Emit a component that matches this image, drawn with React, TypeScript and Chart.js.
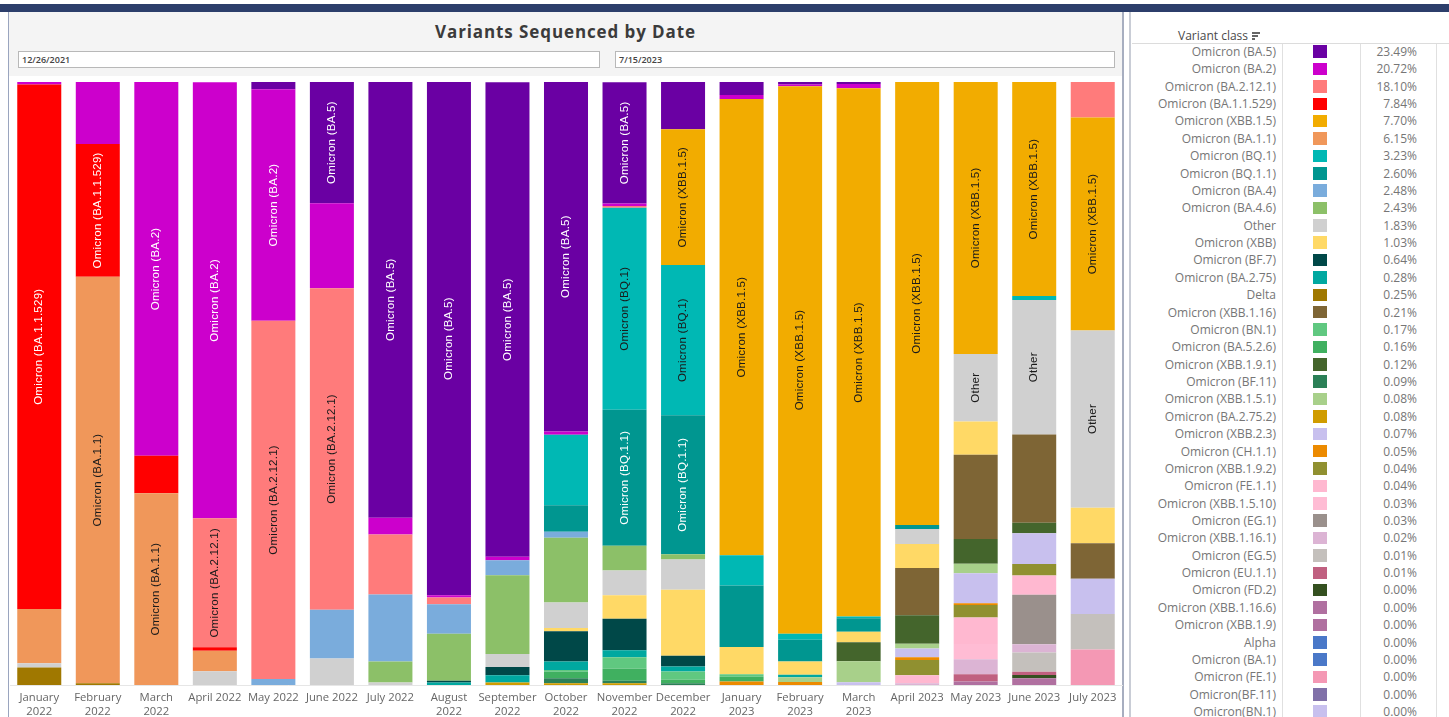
import React, { useEffect, useRef } from 'react';
import { Chart, registerables } from 'chart.js';

Chart.register(...registerables);

// ---------- DATA ----------
const monthLabels: string[][] = [
  ['January', '2022'], ['February', '2022'], ['March', '2022'], ['April 2022'], ['May 2022'],
  ['June 2022'], ['July 2022'], ['August', '2022'], ['September', '2022'], ['October', '2022'],
  ['November', '2022'], ['December', '2022'], ['January', '2023'], ['February', '2023'],
  ['March', '2023'], ['April 2023'], ['May 2023'], ['June 2023'], ['July 2023'],
];

const variantNames: string[] = [
  'Omicron (BA.5)', 'Omicron (BA.2)', 'Omicron (BA.2.12.1)', 'Omicron (BA.1.1.529)', 'Omicron (XBB.1.5)',
  'Omicron (BA.1.1)', 'Omicron (BQ.1)', 'Omicron (BQ.1.1)', 'Omicron (BA.4)', 'Omicron (BA.4.6)',
  'Other', 'Omicron (XBB)', 'Omicron (BF.7)', 'Omicron (BA.2.75)', 'Delta',
  'Omicron (XBB.1.16)', 'Omicron (BN.1)', 'Omicron (BA.5.2.6)', 'Omicron (XBB.1.9.1)', 'Omicron (BF.11)',
  'Omicron (XBB.1.5.1)', 'Omicron (BA.2.75.2)', 'Omicron (XBB.2.3)', 'Omicron (CH.1.1)', 'Omicron (XBB.1.9.2)',
  'Omicron (FE.1.1)', 'Omicron (XBB.1.5.10)', 'Omicron (EG.1)', 'Omicron (XBB.1.16.1)', 'Omicron (EG.5)',
  'Omicron (EU.1.1)', 'Omicron (FD.2)', 'Omicron (XBB.1.16.6)', 'Omicron (XBB.1.9)', 'Alpha',
  'Omicron (BA.1)', 'Omicron (FE.1)', 'Omicron(BF.11)', 'Omicron(BN.1)',
];

const overallShares: string[] = [
  '23.49%', '20.72%', '18.10%', '7.84%', '7.70%', '6.15%', '3.23%', '2.60%', '2.48%', '2.43%',
  '1.83%', '1.03%', '0.64%', '0.28%', '0.25%', '0.21%', '0.17%', '0.16%', '0.12%', '0.09%',
  '0.08%', '0.08%', '0.07%', '0.05%', '0.04%', '0.04%', '0.03%', '0.03%', '0.02%', '0.01%',
  '0.01%', '0.00%', '0.00%', '0.00%', '0.00%', '0.00%', '0.00%', '0.00%', '0.00%',
];

const variantColors: string[] = [
  '#6a00a3', '#cc00cc', '#ff7b7b', '#ff0000', '#f2ac00',
  '#f0975a', '#00b8b4', '#009690', '#7aacdc', '#8cc068',
  '#d0d0d0', '#ffd966', '#004848', '#00a8a0', '#a07800',
  '#7e6535', '#60c880', '#40b060', '#44652c', '#2b8057',
  '#a8d08a', '#d09c00', '#c8c0ee', '#ec8a00', '#909030',
  '#ffb8d0', '#ffbcd4', '#9a908c', '#dcb4d4', '#c4c0bc',
  '#c06080', '#345020', '#b070a0', '#b070a0', '#4a78c8',
  '#4a78c8', '#f498b4', '#8070a8', '#c8c0ee',
];

// monthly share (%) per variant, Jan 2022 .. Jul 2023
const sBA5 = [0, 0, 0, 0, 1.2, 20.1, 72.3, 85.1, 78.7, 58.0, 20.1, 7.85, 2.15, 0.4, 0.35, 0, 0, 0, 0];
const sBA2 = [0.4, 10.3, 62.0, 72.3, 38.4, 14.1, 2.8, 0.4, 0.55, 0.55, 0.4, 0, 0.65, 0.3, 0.7, 0, 0, 0, 0];
const sBA2121 = [0, 0, 0, 21.4, 59.4, 53.3, 9.95, 1.1, 0, 0, 0.3, 0, 0, 0, 0, 0, 0, 0, 5.88];
const sBA11529 = [87.0, 22.0, 6.2, 0.55, 0, 0, 0, 0, 0, 0, 0, 0, 0, 0, 0, 0, 0, 0, 0];
const sXBB15 = [0, 0, 0, 0, 0, 0, 0, 0, 0, 0, 0, 22.5, 75.7, 90.8, 87.6, 73.5, 45.15, 35.5, 35.29];
const sBA11 = [9.0, 67.4, 31.8, 3.4, 0, 0, 0, 0, 0, 0, 0, 0, 0, 0, 0, 0, 0, 0, 0];
const sBQ1 = [0, 0, 0, 0, 0, 0, 0, 0, 0, 11.7, 33.5, 24.9, 5.0, 1.0, 0.3, 0, 0, 0.65, 0];
const sBQ11 = [0, 0, 0, 0, 0, 0, 0, 0, 0, 4.4, 22.55, 23.05, 10.2, 3.6, 2.2, 0.7, 0, 0, 0];
const sBA4 = [0, 0, 0, 0, 1.0, 8.1, 11.1, 4.9, 2.5, 1.0, 0, 0, 0, 0, 0, 0, 0, 0, 0];
const sBA46 = [0, 0, 0, 0, 0, 0, 3.5, 7.8, 13.05, 10.7, 4.1, 0.9, 0, 0, 0, 0, 0, 0, 0];
const sOther = [0.7, 0, 0, 2.3, 0, 4.4, 0.4, 0, 2.15, 4.25, 4.1, 5.0, 0, 0, 0, 2.45, 11.2, 22.3, 29.41];
const sXBB = [0, 0, 0, 0, 0, 0, 0, 0, 0, 0.55, 3.9, 10.95, 4.5, 2.2, 1.75, 4.0, 5.5, 0, 5.88];
const sBF7 = [0, 0, 0, 0, 0, 0, 0, 0.3, 1.4, 5.0, 5.25, 1.8, 0, 0, 0, 0, 0, 0, 0];
const sBA275 = [0, 0, 0, 0, 0, 0, 0, 0.4, 1.2, 1.4, 1.15, 0.8, 0, 0.4, 0, 0, 0, 0, 0];
const sDelta = [2.9, 0.3, 0, 0, 0, 0, 0, 0, 0, 0, 0, 0, 0, 0, 0, 0, 0, 0, 0];
const sXBB116 = [0, 0, 0, 0, 0, 0, 0, 0, 0, 0, 0, 0, 0, 0, 0, 7.85, 14.0, 14.65, 5.88];
const sBN1 = [0, 0, 0, 0, 0, 0, 0, 0, 0, 0.3, 1.9, 1.4, 0.45, 0, 0, 0, 0, 0, 0];
const sBA526 = [0, 0, 0, 0, 0, 0, 0, 0, 0, 1.1, 2.0, 0.55, 0.75, 0, 0, 0, 0, 0, 0];
const sXBB191 = [0, 0, 0, 0, 0, 0, 0, 0, 0, 0, 0, 0, 0, 0, 3.15, 4.7, 4.1, 1.75, 0];
const sBF11 = [0, 0, 0, 0, 0, 0, 0, 0, 0, 0.8, 0.4, 0.3, 0, 0, 0, 0, 0, 0, 0];
const sXBB151 = [0, 0, 0, 0, 0, 0, 0, 0, 0, 0, 0, 0, 0, 0.8, 3.5, 0.8, 1.55, 0, 0];
const sBA2752 = [0, 0, 0, 0, 0, 0, 0, 0, 0.4, 0.3, 0.3, 0, 0, 0, 0, 0, 0, 0, 0];
const sXBB23 = [0, 0, 0, 0, 0, 0, 0, 0, 0, 0, 0, 0, 0, 0, 0.45, 1.45, 5.0, 5.1, 5.88];
const sCH11 = [0, 0, 0, 0, 0, 0, 0, 0, 0, 0, 0, 0, 0.6, 0.5, 0, 0.45, 0.3, 0, 0];
const sXBB192 = [0, 0, 0, 0, 0, 0, 0, 0, 0, 0, 0, 0, 0, 0, 0, 2.55, 2.05, 1.9, 0];
const sFE11 = [0, 0, 0, 0, 0, 0, 0, 0, 0, 0, 0, 0, 0, 0, 0, 1.3, 4.4, 3.2, 0];
const sXBB1510 = [0, 0, 0, 0, 0, 0, 0, 0, 0, 0, 0, 0, 0, 0, 0, 0, 2.55, 0, 0];
const sEG1 = [0, 0, 0, 0, 0, 0, 0, 0, 0, 0, 0, 0, 0, 0, 0, 0, 0, 8.2, 0];
const sXBB1161 = [0, 0, 0, 0, 0, 0, 0, 0, 0, 0, 0, 0, 0, 0, 0, 0.3, 2.45, 1.35, 0];
const sEG5 = [0, 0, 0, 0, 0, 0, 0, 0, 0, 0, 0, 0, 0, 0, 0, 0, 0, 3.2, 5.88];
const sEU11 = [0, 0, 0, 0, 0, 0, 0, 0, 0, 0, 0, 0, 0, 0, 0, 0, 1.2, 0.55, 0];
const sFD2 = [0, 0, 0, 0, 0, 0, 0, 0, 0, 0, 0, 0, 0, 0, 0, 0, 0, 0.55, 0];
const sXBB1166 = [0, 0, 0, 0, 0, 0, 0, 0, 0, 0, 0, 0, 0, 0, 0, 0, 0.6, 1.1, 0];
const sXBB19 = [0, 0, 0, 0, 0, 0, 0, 0, 0, 0, 0, 0, 0, 0, 0, 0, 0, 0, 0];
const sAlpha = [0, 0, 0, 0, 0, 0, 0, 0, 0, 0, 0, 0, 0, 0, 0, 0, 0, 0, 0];
const sBA1 = [0, 0, 0, 0, 0, 0, 0, 0, 0, 0, 0, 0, 0, 0, 0, 0, 0, 0, 0];
const sFE1 = [0, 0, 0, 0, 0, 0, 0, 0, 0, 0, 0, 0, 0, 0, 0, 0, 0, 0, 5.88];
const sBF11b = [0, 0, 0, 0, 0, 0, 0, 0, 0, 0, 0, 0, 0, 0, 0, 0, 0, 0, 0];
const sBN1b = [0, 0, 0, 0, 0, 0, 0, 0, 0, 0, 0, 0, 0, 0, 0, 0, 0, 0, 0];

const seriesValues: number[][] = [
  sBA5, sBA2, sBA2121, sBA11529, sXBB15, sBA11, sBQ1, sBQ11, sBA4, sBA46,
  sOther, sXBB, sBF7, sBA275, sDelta, sXBB116, sBN1, sBA526, sXBB191, sBF11,
  sXBB151, sBA2752, sXBB23, sCH11, sXBB192, sFE11, sXBB1510, sEG1, sXBB1161, sEG5,
  sEU11, sFD2, sXBB1166, sXBB19, sAlpha, sBA1, sFE1, sBF11b, sBN1b,
];

const startDate = '12/26/2021';
const endDate = '7/15/2023';
const chartTitle = 'Variants Sequenced by Date';

// ---------- helpers ----------
function textColorFor(hex: string): string {
  const r = parseInt(hex.slice(1, 3), 16);
  const g = parseInt(hex.slice(3, 5), 16);
  const b = parseInt(hex.slice(5, 7), 16);
  const lum = 0.299 * r + 0.587 * g + 0.114 * b;
  return lum < 120 ? '#ffffff' : '#1a1a1a';
}

const segmentLabels = {
  id: 'segmentLabels',
  afterDatasetsDraw(chart: any) {
    const ctx = chart.ctx as CanvasRenderingContext2D;
    ctx.save();
    ctx.font = '11.5px "Liberation Sans Narrow", "Arial Narrow", sans-serif';
    try { (ctx as any).letterSpacing = '0.25px'; } catch (e) { /* ignore */ }
    ctx.textAlign = 'center';
    ctx.textBaseline = 'middle';
    chart.data.datasets.forEach((ds: any, di: number) => {
      const meta = chart.getDatasetMeta(di);
      meta.data.forEach((bar: any, i: number) => {
        const v = ds.data[i];
        if (!v) return;
        const p = bar.getProps(['x', 'y', 'base'], true);
        const h = Math.abs(p.base - p.y);
        const text = ds.label as string;
        const w = ctx.measureText(text).width;
        if (w + 12 > h) return;
        ctx.save();
        ctx.translate(p.x, (p.y + p.base) / 2);
        ctx.rotate(-Math.PI / 2);
        ctx.fillStyle = textColorFor(ds.backgroundColor);
        ctx.fillText(text, 0, 0);
        ctx.restore();
      });
    });
    ctx.restore();
  },
};

const ROW_H = 17.37;

export default function App() {
  const canvasRef = useRef<HTMLCanvasElement | null>(null);

  useEffect(() => {
    if (!canvasRef.current) return;
    const datasets = variantNames
      .map((name, k) => ({
        label: name,
        data: seriesValues[k],
        backgroundColor: variantColors[k],
        borderWidth: 0,
        barPercentage: 0.752,
        categoryPercentage: 1,
      }))
      .reverse();

    const chart = new Chart(canvasRef.current, {
      type: 'bar',
      data: { labels: monthLabels as any, datasets },
      options: {
        animation: false,
        responsive: false,
        maintainAspectRatio: false,
        devicePixelRatio: 1,
        layout: { padding: { top: 6, left: 10, right: 2, bottom: 0 } },
        plugins: {
          legend: { display: false },
          tooltip: { enabled: false },
          title: { display: false },
        },
        scales: {
          x: {
            stacked: true,
            grid: { display: false, drawTicks: false },
            border: { display: true, color: '#e6e6e6' },
            ticks: {
              autoSkip: false,
              maxRotation: 0,
              minRotation: 0,
              padding: 6,
              color: '#666666',
              font: { family: '"Open Sans", sans-serif', size: 11.3, lineHeight: 1.25 },
            },
            afterFit: (scale: any) => { scale.height = 32; },
          },
          y: {
            stacked: true,
            display: false,
            min: 0,
            max: 100,
          },
        },
      },
      plugins: [segmentLabels],
    } as any);
    return () => { chart.destroy(); };
  }, []);

  const legendRows = variantNames.map((name, i) => (
    <div key={name + i} style={{ position: 'absolute', left: 0, top: 43 + i * ROW_H, width: 317, height: ROW_H }}>
      <div style={{ position: 'absolute', left: 0, width: 144, top: 0, height: ROW_H, lineHeight: ROW_H + 'px', textAlign: 'right', color: '#767676', fontSize: 12, whiteSpace: 'nowrap' }}>{name}</div>
      <div style={{ position: 'absolute', left: 181, top: (ROW_H - 12.5) / 2, width: 14, height: 12.5, background: variantColors[i] }} />
      <div style={{ position: 'absolute', left: 220, width: 65, top: 0, height: ROW_H, lineHeight: ROW_H + 'px', textAlign: 'right', color: '#767676', fontSize: 12 }}>{overallShares[i]}</div>
    </div>
  ));

  return (
    <div style={{ position: 'fixed', left: 0, top: 0, width: 1449, height: 717, overflow: 'hidden', background: '#ffffff', fontFamily: '"Open Sans", sans-serif' }}>
      {/* top navy band */}
      <div style={{ position: 'absolute', left: 0, top: 4, width: 1449, height: 8, background: '#2c3e6b' }} />
      {/* chart panel header */}
      <div style={{ position: 'absolute', left: 9, top: 12, width: 1113, height: 64, background: '#f4f4f4' }} />
      <div style={{ position: 'absolute', left: 9, top: 19, width: 1113, height: 26, lineHeight: '26px', textAlign: 'center', fontSize: 17, fontWeight: 700, letterSpacing: '0.9px', color: '#3b3b3b' }}>{chartTitle}</div>
      <div style={{ position: 'absolute', left: 18, top: 51, width: 577, height: 15, border: '1px solid #b8b8b8', background: '#ffffff', fontSize: 9, lineHeight: '15px', paddingLeft: 3, boxSizing: 'content-box', color: '#444', fontWeight: 600 }}>{startDate}</div>
      <div style={{ position: 'absolute', left: 615, top: 51, width: 495, height: 15, border: '1px solid #b8b8b8', background: '#ffffff', fontSize: 9, lineHeight: '15px', paddingLeft: 3, boxSizing: 'content-box', color: '#444', fontWeight: 600 }}>{endDate}</div>
      {/* panel borders */}
      <div style={{ position: 'absolute', left: 8, top: 12, width: 1, height: 705, background: '#9aa5bf' }} />
      <div style={{ position: 'absolute', left: 1122, top: 12, width: 2, height: 705, background: '#a7aec0' }} />
      <div style={{ position: 'absolute', left: 1129, top: 12, width: 2, height: 705, background: '#c9cdd6' }} />
      {/* chart canvas */}
      <canvas ref={canvasRef} width={1124} height={641} style={{ position: 'absolute', left: 0, top: 76, width: 1124, height: 641 }} />
      {/* legend */}
      <div style={{ position: 'absolute', left: 1132, top: 0, width: 317, height: 717 }}>
        <div style={{ position: 'absolute', left: 46, top: 27, fontSize: 12, color: '#4a4a4a', lineHeight: '18px', whiteSpace: 'nowrap' }}>Variant class</div>
        <div style={{ position: 'absolute', left: 120, top: 32, width: 8, height: 1.5, background: '#666' }} />
        <div style={{ position: 'absolute', left: 120, top: 35, width: 6, height: 1.5, background: '#666' }} />
        <div style={{ position: 'absolute', left: 120, top: 38, width: 3, height: 1.5, background: '#666' }} />
        <div style={{ position: 'absolute', left: 0, top: 43, width: 317, height: 1, background: '#dcdcdc' }} />
        <div style={{ position: 'absolute', left: 150, top: 44, width: 1, height: 673, background: '#e0e0e0' }} />
        <div style={{ position: 'absolute', left: 228, top: 44, width: 1, height: 673, background: '#e0e0e0' }} />
        <div style={{ position: 'absolute', left: 304, top: 44, width: 1, height: 673, background: '#e0e0e0' }} />
        {legendRows}
      </div>
    </div>
  );
}
